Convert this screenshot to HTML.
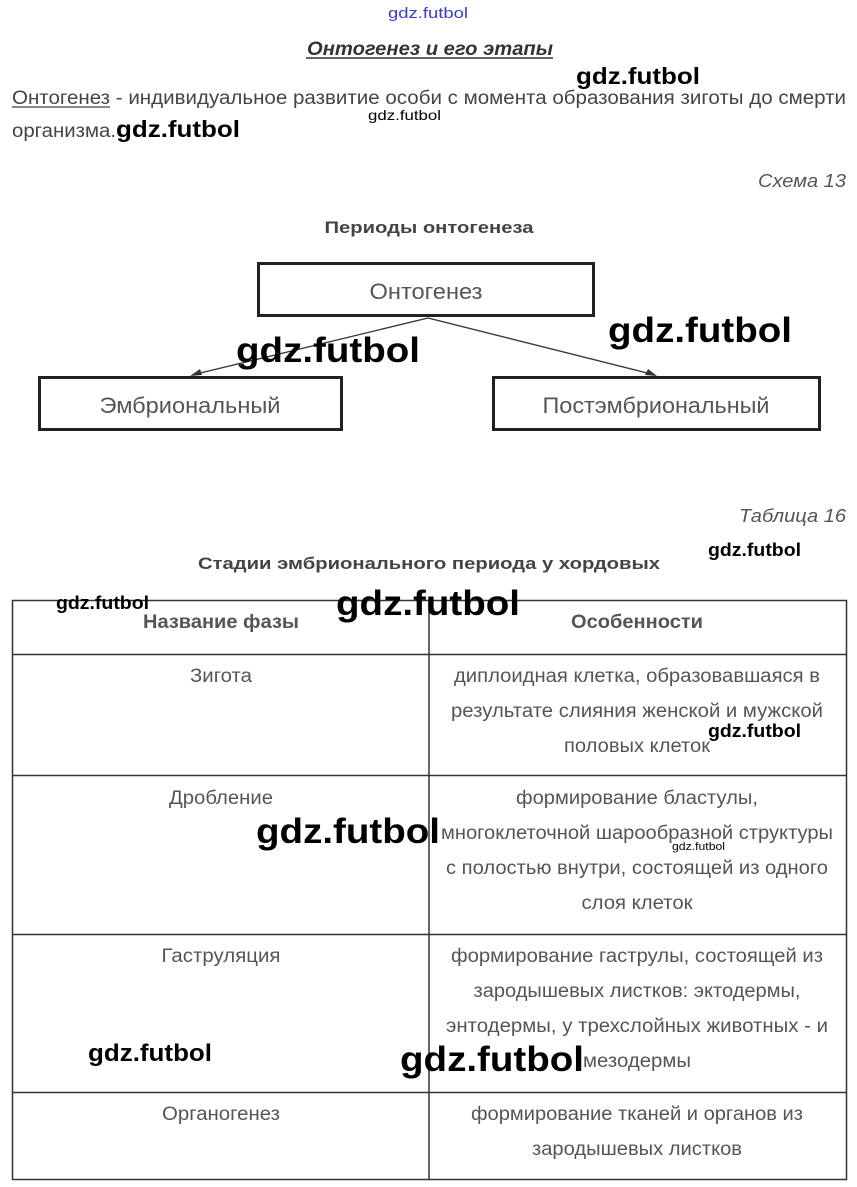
<!DOCTYPE html>
<html><head><meta charset="utf-8"><style>html,body{margin:0;padding:0;background:#fff}svg{display:block}</style></head>
<body>
<svg width="857" height="1187" xmlns="http://www.w3.org/2000/svg" font-family="Liberation Sans, sans-serif">
<text x="428" y="18" text-anchor="middle" font-size="15" fill="#3a3acc" textLength="80" lengthAdjust="spacingAndGlyphs">gdz.futbol</text>
<text x="430" y="55" text-anchor="middle" font-size="19" font-weight="bold" font-style="italic" fill="#333" textLength="246" lengthAdjust="spacingAndGlyphs">Онтогенез и его этапы</text>
<line x1="306" y1="58" x2="553" y2="58" stroke="#333" stroke-width="1.5"/>
<text x="576" y="84" font-size="23" font-weight="bold" fill="#000" textLength="124" lengthAdjust="spacingAndGlyphs">gdz.futbol</text>
<text x="12" y="104" font-size="19" fill="#444" textLength="834" lengthAdjust="spacingAndGlyphs">Онтогенез - индивидуальное развитие особи с момента образования зиготы до смерти</text>
<line x1="12" y1="107" x2="110" y2="107" stroke="#444" stroke-width="1.2"/>
<text x="368" y="120" font-size="14" fill="#000" textLength="73" lengthAdjust="spacingAndGlyphs">gdz.futbol</text>
<text x="12" y="137" font-size="19" fill="#444" textLength="104" lengthAdjust="spacingAndGlyphs">организма.</text>
<text x="116" y="137" font-size="23" font-weight="bold" fill="#000" textLength="124" lengthAdjust="spacingAndGlyphs">gdz.futbol</text>
<text x="846" y="187" text-anchor="end" font-size="18" font-style="italic" fill="#555" textLength="88" lengthAdjust="spacingAndGlyphs">Схема 13</text>
<text x="429" y="233" text-anchor="middle" font-size="17" font-weight="bold" fill="#444" textLength="209" lengthAdjust="spacingAndGlyphs">Периоды онтогенеза</text>
<rect x="258.5" y="263.5" width="335" height="52" fill="none" stroke="#222" stroke-width="3"/>
<text x="426" y="299" text-anchor="middle" font-size="22" fill="#555" textLength="113" lengthAdjust="spacingAndGlyphs">Онтогенез</text>
<rect x="39.5" y="377.5" width="302" height="52" fill="none" stroke="#222" stroke-width="3"/>
<text x="190" y="413" text-anchor="middle" font-size="22" fill="#555" textLength="181" lengthAdjust="spacingAndGlyphs">Эмбриональный</text>
<rect x="493.5" y="377.5" width="326" height="52" fill="none" stroke="#222" stroke-width="3"/>
<text x="656" y="413" text-anchor="middle" font-size="22" fill="#555" textLength="227" lengthAdjust="spacingAndGlyphs">Постэмбриональный</text>
<line x1="428" y1="318" x2="192" y2="375" stroke="#333" stroke-width="1.3"/>
<line x1="428" y1="318" x2="655" y2="375" stroke="#333" stroke-width="1.3"/>
<polygon points="190,376 200,369 202,375" fill="#333"/>
<polygon points="657,376 645,375 648,369" fill="#333"/>
<text x="236" y="362" font-size="35" font-weight="bold" fill="#000" textLength="184" lengthAdjust="spacingAndGlyphs">gdz.futbol</text>
<text x="608" y="342" font-size="35" font-weight="bold" fill="#000" textLength="184" lengthAdjust="spacingAndGlyphs">gdz.futbol</text>
<text x="846" y="522" text-anchor="end" font-size="18" font-style="italic" fill="#555" textLength="107" lengthAdjust="spacingAndGlyphs">Таблица 16</text>
<text x="429" y="569" text-anchor="middle" font-size="17" font-weight="bold" fill="#444" textLength="462" lengthAdjust="spacingAndGlyphs">Стадии эмбрионального периода у хордовых</text>
<text x="708" y="556" font-size="18" font-weight="bold" fill="#000" textLength="93" lengthAdjust="spacingAndGlyphs">gdz.futbol</text>
<g stroke="#333" stroke-width="1.5" fill="none">
<rect x="12.5" y="600.5" width="834" height="579"/>
<line x1="429" y1="600" x2="429" y2="1180"/>
<line x1="12" y1="654.5" x2="846" y2="654.5"/>
<line x1="12" y1="775.5" x2="846" y2="775.5"/>
<line x1="12" y1="934.5" x2="846" y2="934.5"/>
<line x1="12" y1="1092.5" x2="846" y2="1092.5"/>
</g>
<g font-size="19" fill="#555" text-anchor="middle" lengthAdjust="spacingAndGlyphs">
<text x="221" y="628" font-weight="bold" textLength="156" lengthAdjust="spacingAndGlyphs">Название фазы</text>
<text x="637" y="628" font-weight="bold" textLength="132" lengthAdjust="spacingAndGlyphs">Особенности</text>
<text x="221" y="682" textLength="62" lengthAdjust="spacingAndGlyphs">Зигота</text>
<text x="637" y="682" textLength="366" lengthAdjust="spacingAndGlyphs">диплоидная клетка, образовавшаяся в</text>
<text x="637" y="717" textLength="372" lengthAdjust="spacingAndGlyphs">результате слияния женской и мужской</text>
<text x="637" y="752" textLength="146" lengthAdjust="spacingAndGlyphs">половых клеток</text>
<text x="221" y="804" textLength="104" lengthAdjust="spacingAndGlyphs">Дробление</text>
<text x="637" y="804" textLength="242" lengthAdjust="spacingAndGlyphs">формирование бластулы,</text>
<text x="637" y="839" textLength="392" lengthAdjust="spacingAndGlyphs">многоклеточной шарообразной структуры</text>
<text x="637" y="874" textLength="382" lengthAdjust="spacingAndGlyphs">с полостью внутри, состоящей из одного</text>
<text x="637" y="909" textLength="111" lengthAdjust="spacingAndGlyphs">слоя клеток</text>
<text x="221" y="962" textLength="119" lengthAdjust="spacingAndGlyphs">Гаструляция</text>
<text x="637" y="962" textLength="372" lengthAdjust="spacingAndGlyphs">формирование гаструлы, состоящей из</text>
<text x="637" y="997" textLength="327" lengthAdjust="spacingAndGlyphs">зародышевых листков: эктодермы,</text>
<text x="637" y="1032" textLength="382" lengthAdjust="spacingAndGlyphs">энтодермы, у трехслойных животных - и</text>
<text x="637" y="1067" textLength="108" lengthAdjust="spacingAndGlyphs">мезодермы</text>
<text x="221" y="1120" textLength="118" lengthAdjust="spacingAndGlyphs">Органогенез</text>
<text x="637" y="1120" textLength="332" lengthAdjust="spacingAndGlyphs">формирование тканей и органов из</text>
<text x="637" y="1155" textLength="210" lengthAdjust="spacingAndGlyphs">зародышевых листков</text>
</g>
<g font-weight="bold" fill="#000">
<text x="56" y="609" font-size="18" textLength="93" lengthAdjust="spacingAndGlyphs">gdz.futbol</text>
<text x="336" y="615" font-size="35" textLength="184" lengthAdjust="spacingAndGlyphs">gdz.futbol</text>
<text x="708" y="737" font-size="18" textLength="93" lengthAdjust="spacingAndGlyphs">gdz.futbol</text>
<text x="256" y="843" font-size="35" textLength="184" lengthAdjust="spacingAndGlyphs">gdz.futbol</text>
<text x="672" y="850" font-size="11" font-weight="normal" textLength="53" lengthAdjust="spacingAndGlyphs">gdz.futbol</text>
<text x="88" y="1061" font-size="24" textLength="124" lengthAdjust="spacingAndGlyphs">gdz.futbol</text>
<text x="400" y="1071" font-size="35" textLength="184" lengthAdjust="spacingAndGlyphs">gdz.futbol</text>
</g>
</svg>
</body></html>
